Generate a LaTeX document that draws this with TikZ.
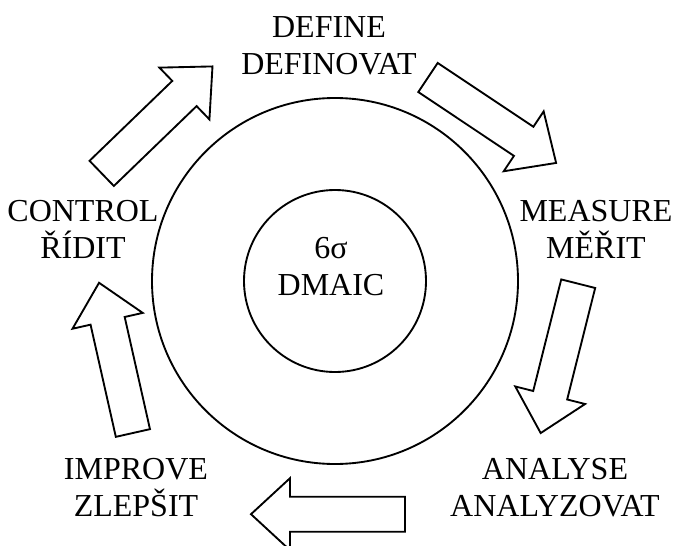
\documentclass[tikz,border=0pt]{standalone}
\usepackage{fontspec}
\setmainfont{Liberation Serif}
\usepackage{tikz}

\tikzset{
  phase/.style={font=\fontsize{24}{27.3}\selectfont, align=center, inner sep=0pt, anchor=base},
  ring/.style={draw, circle, line width=1.4pt, inner sep=0pt},
  blockarrow/.style={draw, line width=1.4pt, line join=miter},
}

\begin{document}
\begin{tikzpicture}[x=0.75pt, y=-0.75pt]
\clip (0,0) rectangle (675,546);

% rings
\node[ring, minimum size=274.5pt] (outer) at (335,281) {};
\node[ring, minimum size=136.5pt] (core) at (335,281) {};
\node[phase] (coretext) at (331,295) {6σ\\DMAIC};

% phases (anchor on the last line)
\node[phase] (define) at (329,74) {DEFINE\\DEFINOVAT};
\node[phase] (measure) at (596,258) {MEASURE\\MĚŘIT};
\node[phase] (analyse) at (555,516) {ANALYSE\\ANALYZOVAT};
\node[phase] (improve) at (136,516) {IMPROVE\\ZLEPŠIT};
\node[phase] (control) at (83,258) {CONTROL\\ŘÍDIT};

% block arrows: tail x / tail y / angle
\foreach \tx/\ty/\ang in {101.7/173.4/44, 428/77.5/-33.7, 578.2/283.7/-104.1, 405/514.2/180, 132.9/433/102.7}
  \draw[blockarrow, shift={(\tx,\ty)}, rotate=\ang]
    (0,-17.5) -- (115,-17.5) -- (115,-36) -- (154,0) -- (115,36) -- (115,17.5) -- (0,17.5) -- cycle;
\end{tikzpicture}
\end{document}
